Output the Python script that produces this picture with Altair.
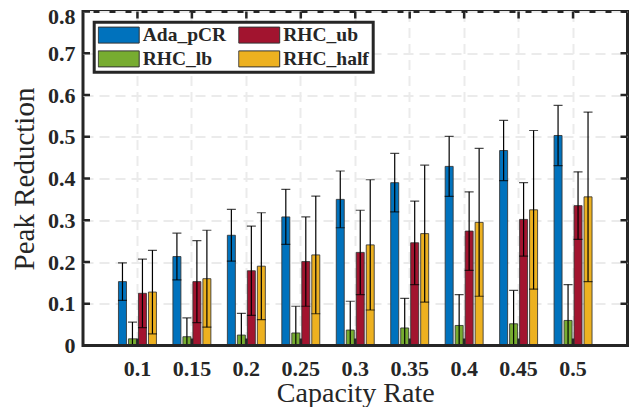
import altair as alt
import pandas as pd

caps = ["0.1", "0.15", "0.2", "0.25", "0.3", "0.35", "0.4", "0.45", "0.5"]
bar_order = ["Ada_pCR", "RHC_lb", "RHC_ub", "RHC_half"]

ada = [0.153, 0.213, 0.264, 0.308, 0.350, 0.390, 0.429, 0.467, 0.503]
ada_err = [0.045, 0.056, 0.062, 0.066, 0.068, 0.070, 0.072, 0.072, 0.072]
lb = [0.016, 0.021, 0.025, 0.030, 0.037, 0.042, 0.048, 0.052, 0.060]
lb_err = [0.040, 0.045, 0.052, 0.064, 0.069, 0.071, 0.074, 0.080, 0.086]
ub = [0.125, 0.153, 0.179, 0.201, 0.223, 0.246, 0.274, 0.302, 0.335]
ub_err = [0.082, 0.098, 0.107, 0.107, 0.101, 0.100, 0.094, 0.088, 0.081]
half = [0.128, 0.160, 0.190, 0.217, 0.241, 0.268, 0.295, 0.325, 0.356]
half_err = [0.100, 0.116, 0.128, 0.141, 0.156, 0.164, 0.177, 0.190, 0.203]

yticks = [0, 0.1, 0.2, 0.3, 0.4, 0.5, 0.6, 0.7, 0.8]

colors = {"Ada_pCR": "#0072BD", "RHC_ub": "#A2142F", "RHC_lb": "#77AC30", "RHC_half": "#EDB120"}

rows = []
for name, vals, errs in [("Ada_pCR", ada, ada_err), ("RHC_lb", lb, lb_err),
                         ("RHC_ub", ub, ub_err), ("RHC_half", half, half_err)]:
    for c, v, e in zip(caps, vals, errs):
        rows.append({"cap": c, "method": name, "v": v, "lo": v - e, "hi": v + e})
df = pd.DataFrame(rows)

W, H = 544.5, 334
FONT = "Liberation Serif"
TXT = "#262626"

xscale = alt.Scale(domain=caps, paddingInner=0, paddingOuter=0.5)
yscale = alt.Scale(domain=[0, 0.8], nice=False, zero=True)
xoff = alt.XOffset("method:N", sort=bar_order,
                   scale=alt.Scale(domain=bar_order, paddingInner=0.2, paddingOuter=0.825))

xaxis = alt.Axis(labelAngle=0, ticks=False, tickSize=0, domain=False, grid=True,
                 gridDash=[10, 6], gridColor="#ebebeb", gridWidth=2, bandPosition=0.5,
                 labelFont=FONT, labelFontWeight="bold", labelFontSize=22, labelColor=TXT,
                 labelPadding=12.5, titleFont=FONT, titleFontWeight="normal", titleFontSize=28,
                 titleColor=TXT, titleBaseline="alphabetic", titleY=56)
yaxis = alt.Axis(values=yticks, format=".1~f", ticks=False, tickSize=0, domain=False, grid=True,
                 gridDash=[10, 6], gridColor="#ebebeb", gridWidth=2,
                 labelFont=FONT, labelFontWeight="bold", labelFontSize=22, labelColor=TXT,
                 labelPadding=8,
                 labelOffset={"condition": {"test": "datum.value >= 0.79", "value": 5}, "value": 0},
                 titleFont=FONT, titleFontWeight="normal", titleFontSize=29,
                 titleColor=TXT, titleBaseline="alphabetic", titleX=-50)

# Vega fills legend columns top-to-bottom, so the bar order gives
# row 1: Ada_pCR, RHC_ub / row 2: RHC_lb, RHC_half
color = alt.Color("method:N",
                  scale=alt.Scale(domain=bar_order, range=[colors[k] for k in bar_order]),
                  legend=alt.Legend(title=None, orient="none", legendX=11.2, legendY=10.7, columns=2,
                                    symbolType="M-1,-0.39H1V0.39H-1Z", symbolSize=1681,
                                    symbolStrokeColor="#333333", symbolStrokeWidth=1,
                                    symbolOpacity=1, labelFont=FONT, labelFontWeight="bold",
                                    labelFontSize=19.5, labelColor=TXT, labelOffset=3,
                                    columnPadding=11.5, rowPadding=3.9, clipHeight=18.6,
                                    padding=3.5, fillColor="white", strokeColor=TXT))

X = alt.X("cap:N", sort=caps, scale=xscale, title="Capacity Rate", axis=xaxis)

bars = alt.Chart(df).mark_bar(stroke="#333333", strokeWidth=1, strokeOpacity=0.85).encode(
    x=X, xOffset=xoff,
    y=alt.Y("v:Q", scale=yscale, title="Peak Reduction", axis=yaxis),
    color=color,
)

err = alt.Chart(df).mark_rule(color="black", strokeWidth=1.2, clip=True).encode(
    x=alt.X("cap:N", sort=caps, title="Capacity Rate"), xOffset=xoff,
    y=alt.Y("lo:Q", scale=yscale, title="Peak Reduction"), y2="hi:Q",
)
cap_hi = alt.Chart(df).mark_tick(color="black", thickness=1.2, size=9, clip=True).encode(
    x=alt.X("cap:N", sort=caps, title="Capacity Rate"), xOffset=xoff,
    y=alt.Y("hi:Q", scale=yscale, title="Peak Reduction"),
)
cap_lo = alt.Chart(df).mark_tick(color="black", thickness=1.2, size=9, clip=True).encode(
    x=alt.X("cap:N", sort=caps, title="Capacity Rate"), xOffset=xoff,
    y=alt.Y("lo:Q", scale=yscale, title="Peak Reduction"),
)

ytdf = pd.DataFrame({"t": yticks})
xtdf = pd.DataFrame({"cap": caps})
yl = alt.Chart(ytdf).mark_rule(color=TXT, strokeWidth=2.5).encode(
    y=alt.Y("t:Q", scale=yscale, title="Peak Reduction"), x=alt.value(0), x2=alt.value(7))
yr = alt.Chart(ytdf).mark_rule(color=TXT, strokeWidth=2.5).encode(
    y=alt.Y("t:Q", scale=yscale, title="Peak Reduction"), x=alt.value(W - 7), x2=alt.value(W))
xb = alt.Chart(xtdf).mark_rule(color=TXT, strokeWidth=2.5).encode(
    x=alt.X("cap:N", sort=caps, title="Capacity Rate"), y=alt.value(H), y2=alt.value(H - 7))
xt = alt.Chart(xtdf).mark_rule(color=TXT, strokeWidth=2.5).encode(
    x=alt.X("cap:N", sort=caps, title="Capacity Rate"), y=alt.value(0), y2=alt.value(7))
base = alt.Chart(ytdf).mark_rule(color=TXT, strokeWidth=3).encode(y=alt.datum(0))

chart = alt.layer(bars, err, cap_hi, cap_lo, yl, yr, xb, xt, base).properties(
    width=W, height=H,
    autosize=alt.AutoSizeParams(type="none"),
    padding={"left": 75, "top": 3.5, "right": 8.5, "bottom": 61.5},
    background="white",
).configure_view(stroke=TXT, strokeWidth=3).configure_legend(strokeWidth=3)

chart.save("out.html", embed_options={"renderer": "svg", "actions": False})
